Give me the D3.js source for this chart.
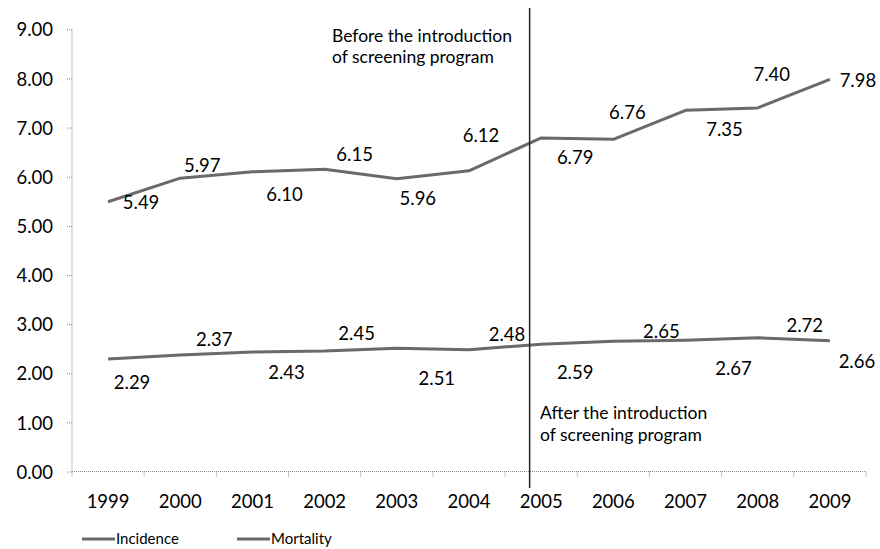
<!DOCTYPE html>
<html>
<head>
<meta charset="utf-8">
<script src="https://cdn.jsdelivr.net/npm/d3@7"></script>
<style>
  html, body { margin: 0; padding: 0; background: #fff; }
  svg { display: block; font-family: Lato, "Open Sans", sans-serif; }
</style>
</head>
<body>
<svg id="chart" width="880" height="549"></svg>
<script>
// Years on the horizontal axis
const years = ["1999", "2000", "2001", "2002", "2003", "2004", "2005", "2006", "2007", "2008", "2009"];
// Rates per year
const incidence = [5.49, 5.97, 6.10, 6.15, 5.96, 6.12, 6.79, 6.76, 7.35, 7.40, 7.98];
const mortality = [2.29, 2.37, 2.43, 2.45, 2.51, 2.48, 2.59, 2.65, 2.67, 2.72, 2.66];
// Vertical axis ticks
const yTicks = [0, 1, 2, 3, 4, 5, 6, 7, 8, 9];
const seriesNames = ["Incidence", "Mortality"];
const screeningYear = "2005";
const beforeText = ["Before the introduction", "of screening program"];
const afterText = ["After the introduction", "of screening program"];

// Data label placement (pixel offsets from each point)
const incLabelDx = [33, 22, 32, 30, 21, 12, 34, 14, 39, 14, 28];
const incLabelDy = [1, -13, 23, -15, 20, -35, 19, -27, 19, -34, 1];
const morLabelDx = [24, 34, 34, 32, 40, 38, 34, 48, 48, 47, 27];
const morLabelDy = [23, -16, 20, -18, 30, -15, 28, -10, 28, -13, 21];

const svg = d3.select("#chart");
const plotLeft = 72, plotRight = 866, plotTop = 29.3, plotBottom = 471.5;

const x = d3.scaleBand().domain(years).range([plotLeft, plotRight]).padding(0);
const y = d3.scaleLinear().domain([0, 9]).range([plotBottom, plotTop]);
const cx = d => x(d) + x.bandwidth() / 2;

const axisColor = "#8c8c8c";
const lineColor = "#6a6a6a";
const textColor = "#000";

// Y axis (dotted)
const yAxis = svg.append("g")
  .attr("transform", `translate(${plotLeft},0)`)
  .call(d3.axisLeft(y).tickValues(yTicks).tickFormat(d3.format(".2f")).tickSize(5).tickPadding(14));
yAxis.select(".domain").attr("stroke", axisColor).attr("stroke-dasharray", "1,1").attr("d", `M0,${plotTop}V${plotBottom + 5}`);
yAxis.selectAll(".tick line").attr("stroke", axisColor).attr("stroke-dasharray", "1,1");
yAxis.selectAll(".tick text").attr("font-size", 18.5).attr("fill", textColor).attr("dy", "0.36em")
  .attr("font-family", "Lato, 'Open Sans', sans-serif");

// X axis (dotted) with ticks on category boundaries
const xAxis = svg.append("g");
xAxis.append("line")
  .attr("x1", plotLeft).attr("x2", plotRight).attr("y1", plotBottom).attr("y2", plotBottom)
  .attr("stroke", axisColor).attr("stroke-dasharray", "1,1");
xAxis.selectAll("line.b")
  .data(years.map((d, i) => i + 1))
  .join("line").attr("class", "b")
  .attr("x1", i => plotLeft + i * x.step()).attr("x2", i => plotLeft + i * x.step())
  .attr("y1", plotBottom).attr("y2", plotBottom + 5)
  .attr("stroke", axisColor).attr("stroke-dasharray", "1,1");
xAxis.selectAll("text")
  .data(years)
  .join("text")
  .attr("x", cx).attr("y", 501).attr("dy", "0.36em")
  .attr("text-anchor", "middle").attr("font-size", 18.5).attr("fill", textColor)
  .text(d => d);

// Lines
const line = d3.line().x((d, i) => cx(years[i])).y(d => y(d));
[incidence, mortality].forEach(s => {
  svg.append("path").datum(s)
    .attr("d", line).attr("fill", "none")
    .attr("stroke", lineColor).attr("stroke-width", 3)
    .attr("stroke-linejoin", "round");
});

// Data labels
function labels(values, dxs, dys) {
  svg.append("g").selectAll("text")
    .data(values)
    .join("text")
    .attr("x", (d, i) => cx(years[i]) + dxs[i])
    .attr("y", (d, i) => y(d) + dys[i])
    .attr("dy", "0.36em")
    .attr("text-anchor", "middle").attr("font-size", 18.5).attr("fill", textColor)
    .text(d => d3.format(".2f")(d));
}
labels(incidence, incLabelDx, incLabelDy);
labels(mortality, morLabelDx, morLabelDy);

// Screening divider
const divX = x(screeningYear) + x.bandwidth() * 0.34;
svg.append("line")
  .attr("x1", divX).attr("x2", divX).attr("y1", 8).attr("y2", 488)
  .attr("stroke", "#222").attr("stroke-width", 1.5);

function note(lines, x0, y0, lh) {
  svg.append("text")
    .attr("font-size", 17.5).attr("fill", textColor)
    .selectAll("tspan").data(lines).join("tspan")
    .attr("x", x0).attr("y", (d, i) => y0 + i * lh)
    .text(d => d);
}
note(beforeText, 332, 42, 21);
note(afterText, 540, 419, 22);

// Legend
const legend = svg.append("g");
const legendX = [82, 237];
seriesNames.forEach((n, i) => {
  legend.append("line")
    .attr("x1", legendX[i]).attr("x2", legendX[i] + 33)
    .attr("y1", 539).attr("y2", 539)
    .attr("stroke", lineColor).attr("stroke-width", 3);
  legend.append("text")
    .attr("x", legendX[i] + 34).attr("y", 544)
    .attr("font-size", 15).attr("fill", textColor)
    .text(n);
});
</script>
</body>
</html>
